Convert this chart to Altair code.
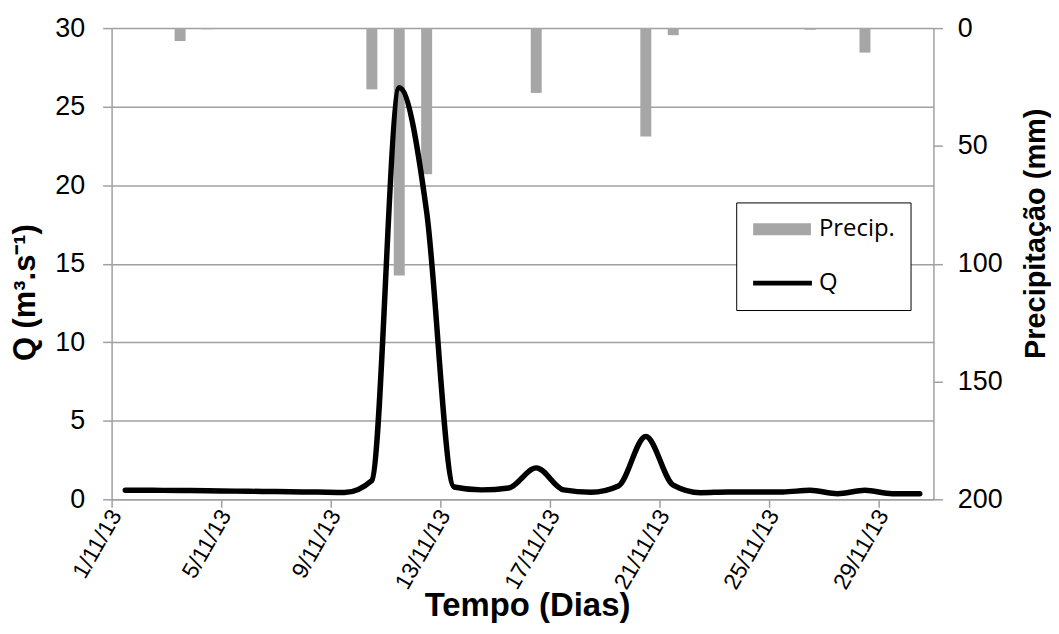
import altair as alt
import pandas as pd

# ---- data ----
dias = ["1/11/13", "2/11/13", "3/11/13", "4/11/13", "5/11/13", "6/11/13",
        "7/11/13", "8/11/13", "9/11/13", "10/11/13", "11/11/13", "12/11/13",
        "13/11/13", "14/11/13", "15/11/13", "16/11/13", "17/11/13", "18/11/13",
        "19/11/13", "20/11/13", "21/11/13", "22/11/13", "23/11/13", "24/11/13",
        "25/11/13", "26/11/13", "27/11/13", "28/11/13", "29/11/13", "30/11/13"]

vazao = [0.57, 0.57, 0.56, 0.54, 0.52, 0.50, 0.48, 0.46, 0.43, 1.2,
         26.2, 18.3, 0.78, 0.6, 0.72, 2.0, 0.6, 0.45, 0.85, 4.0,
         0.9, 0.42, 0.47, 0.47, 0.47, 0.57, 0.36, 0.57, 0.36, 0.36]

precip = [0, 0, 5.5, 0.5, 0, 0, 0, 0, 0, 26,
          105, 62, 0, 0, 0, 27.5, 0, 0, 0, 46,
          3, 0, 0, 0, 0, 0.7, 0, 10.4, 0, 0]

tick_labels = ["1/11/13", "5/11/13", "9/11/13", "13/11/13",
               "17/11/13", "21/11/13", "25/11/13", "29/11/13"]
q_ticks = [0, 5, 10, 15, 20, 25, 30]
p_ticks = [0, 50, 100, 150, 200]
series = ["Precip.", "Q"]
series_colors = ["#a6a6a6", "#000000"]

df = pd.DataFrame({"dia": dias, "Q": vazao, "P": precip})
legend_df = pd.DataFrame({"serie": series})

GRAY = "#a0a0a0"
FONT = "Liberation Sans, Arial, sans-serif"

x_enc = alt.X(
    "dia:O", sort=None,
    scale=alt.Scale(type="band", paddingInner=0, paddingOuter=0),
    axis=alt.Axis(
        values=tick_labels, bandPosition=0, title="Tempo (Dias)",
        labelAngle=-60, labelAlign="right", labelBaseline="middle",
        labelFontSize=23, labelPadding=4, labelOffset=-9, tickSize=8, grid=False,
        labelOverlap=False, labelFlush=False,
        titleFontSize=33, titleX=417, titleY=107,
        titleAlign="center", titleBaseline="middle",
    ),
)

bars = alt.Chart(df).mark_bar(color="#a6a6a6", width=alt.RelativeBandSize(0.4)).encode(
    x=x_enc,
    y=alt.Y(
        "P:Q",
        scale=alt.Scale(domain=[0, 200], reverse=True, nice=False, zero=True),
        axis=alt.Axis(
            orient="right", values=p_ticks, grid=False,
            title="Precipitação (mm)", titleAngle=270, titleFontSize=29,
            titleX=102, titleY=206, titleAlign="center", titleBaseline="middle",
            labelFontSize=27, labelPadding=15, tickSize=9,
        ),
    ),
)

line = alt.Chart(df).mark_line(
    color="black", strokeWidth=5.5, interpolate="monotone", strokeCap="round"
).encode(
    x=x_enc,
    y=alt.Y(
        "Q:Q",
        scale=alt.Scale(domain=[0, 30], nice=False),
        axis=alt.Axis(
            orient="left", values=q_ticks, grid=True,
            title="Q (m³.s⁻¹)", titleAngle=270, titleFontSize=31,
            titleX=-86, titleY=265, titleAlign="center", titleBaseline="middle",
            labelFontSize=27, labelPadding=18, tickSize=9,
        ),
    ),
)

leg = alt.Legend(
    orient="none", legendX=627, legendY=175, title=None,
    strokeColor="black", fillColor="white", padding=15, cornerRadius=0,
    labelFont="Open Sans", labelFontSize=24, labelColor="black",
    labelOffset=44, symbolSize=400, symbolStrokeWidth=0,
    rowPadding=30, symbolOpacity=1,
)

legend_layer = alt.Chart(legend_df).mark_point(filled=True, size=400, opacity=1).encode(
    color=alt.Color("serie:N", scale=alt.Scale(domain=series, range=series_colors), legend=leg),
    shape=alt.Shape("serie:N", scale=alt.Scale(
        domain=series,
        range=["M-1,-0.6H4.8V0.6H-1Z", "M-1,-0.25H4.9V0.25H-1Z"]), legend=leg),
).transform_filter("false")

chart = alt.layer(bars, line, legend_layer).resolve_scale(
    y="independent"
).properties(
    width=825, height=473,
    padding={"left": 104, "top": 19, "right": 118, "bottom": 124},
    autosize=alt.AutoSizeParams(type="none"),
    background="white",
).configure_view(stroke=None).configure_axis(
    domainColor=GRAY, tickColor=GRAY, gridColor=GRAY,
    domainWidth=1.5, tickWidth=1.5, gridWidth=1.5,
    labelFont=FONT, titleFont=FONT, labelColor="black", titleColor="black",
    titleFontWeight="bold",
)

chart.save("out.html", embed_options={"renderer": "svg", "actions": False})
